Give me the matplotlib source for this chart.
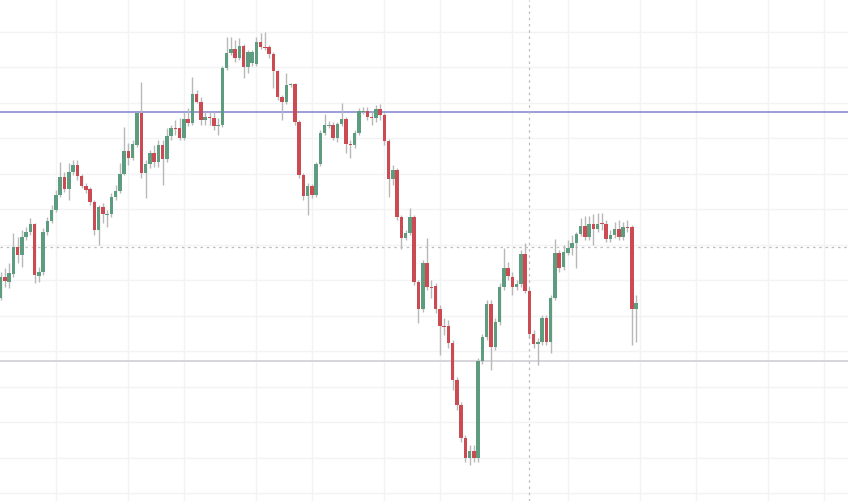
import matplotlib.pyplot as plt
import numpy as np

# 화면에서 읽은 캔들 값 (화면 y 픽셀 기준, 아래에서 가격으로 변환)
open_px = [298, 277, 282, 274, 247, 255, 237, 232, 224, 276, 272, 232, 221, 210, 195, 177, 189, 172, 165, 176,
           186, 189, 202, 230, 207, 215, 214, 197, 191, 174, 151, 158, 145, 113, 173, 164, 153, 162, 145, 159,
           136, 128, 128, 138, 119, 123, 94, 102, 120, 117, 118, 126, 125, 68, 53, 49, 58, 46, 67, 63,
           64, 42, 47, 47, 54, 71, 97, 102, 85, 84, 122, 175, 196, 186, 195, 164, 133, 126, 125, 138,
           124, 119, 144, 145, 133, 112, 111, 117, 118, 109, 115, 141, 179, 170, 217, 238, 233, 217, 282, 309,
           263, 287, 286, 309, 326, 326, 343, 380, 405, 438, 458, 451, 458, 361, 337, 304, 347, 322, 287, 268,
           277, 287, 284, 254, 291, 334, 344, 342, 318, 342, 298, 253, 267, 253, 248, 243, 234, 226, 237, 224,
           229, 223, 224, 239, 235, 229, 237, 227, 227, 309]
high_px = [272, 268, 263, 233, 237, 230, 227, 218, 223, 267, 228, 217, 205, 190, 162, 172, 163, 160, 160, 174,
           183, 187, 200, 205, 203, 210, 193, 185, 163, 127, 143, 140, 112, 82, 160, 150, 145, 140, 140, 128,
           125, 120, 118, 112, 108, 77, 90, 97, 112, 112, 112, 118, 66, 37, 37, 40, 38, 44, 50, 50,
           37, 33, 32, 45, 52, 70, 95, 73, 83, 83, 120, 173, 183, 184, 162, 130, 114, 121, 122, 122,
           103, 117, 140, 130, 108, 107, 107, 112, 105, 104, 113, 139, 165, 168, 215, 230, 208, 215, 280, 260,
           238, 280, 283, 305, 318, 320, 340, 377, 402, 435, 445, 445, 358, 334, 300, 300, 318, 283, 248, 262,
           272, 280, 250, 243, 288, 330, 338, 315, 315, 295, 239, 250, 245, 240, 235, 232, 218, 216, 216, 214,
           213, 213, 220, 230, 222, 220, 222, 220, 225, 295]
low_px = [300, 287, 288, 277, 263, 267, 240, 235, 283, 282, 275, 235, 223, 212, 197, 192, 200, 175, 180, 188,
          193, 205, 235, 245, 223, 227, 217, 200, 193, 175, 165, 160, 147, 178, 198, 168, 167, 167, 185, 162,
          140, 135, 140, 140, 126, 125, 103, 125, 125, 125, 130, 135, 127, 70, 55, 62, 60, 78, 73, 66,
          66, 49, 50, 58, 88, 100, 120, 104, 87, 125, 178, 200, 215, 198, 197, 166, 135, 128, 140, 142,
          126, 153, 158, 148, 135, 114, 120, 125, 122, 120, 145, 197, 185, 220, 249, 240, 235, 285, 323, 312,
          290, 298, 313, 355, 335, 348, 390, 410, 442, 462, 465, 462, 462, 364, 340, 370, 350, 325, 290, 280,
          295, 290, 287, 293, 338, 348, 365, 345, 345, 353, 300, 272, 270, 255, 255, 268, 236, 240, 240, 245,
          232, 230, 242, 242, 238, 240, 240, 232, 345, 342]
close_px = [277, 281, 273, 247, 255, 237, 232, 224, 275, 272, 232, 221, 210, 195, 177, 189, 172, 165, 176, 186,
            190, 202, 230, 207, 214, 214, 197, 191, 174, 151, 158, 144, 113, 173, 164, 153, 162, 145, 159, 136,
            128, 129, 138, 119, 123, 94, 102, 120, 117, 118, 126, 125, 68, 53, 49, 58, 46, 67, 52, 52,
            42, 47, 48, 54, 71, 97, 102, 85, 84, 122, 175, 196, 186, 195, 164, 133, 125, 125, 138, 124,
            119, 144, 145, 133, 111, 111, 117, 118, 109, 115, 141, 179, 170, 217, 238, 233, 217, 282, 309, 263,
            287, 288, 309, 326, 327, 343, 380, 405, 438, 458, 451, 458, 361, 337, 304, 347, 322, 287, 268, 276,
            287, 284, 254, 291, 334, 344, 342, 318, 342, 298, 253, 268, 252, 248, 243, 234, 226, 237, 224, 229,
            224, 224, 239, 235, 229, 237, 227, 228, 309, 303]

# 수평선 / 커서 위치 (픽셀 -> 가격)
resistance_px = 112
support_px = 361
cursor_px = 247
cursor_bar = 124

# 가격으로 변환
opens = 500 - np.array(open_px)
highs = 500 - np.array(high_px)
lows = 500 - np.array(low_px)
closes = 500 - np.array(close_px)
x = np.arange(len(opens))

up_color = '#5e9c7f'
down_color = '#cc4b53'

fig = plt.figure(figsize=(8.48, 5.01), dpi=100)
ax = fig.add_axes([0, 0, 1, 1])

# 그리드
ax.set_xticks([13, 30, 43, 60, 73, 90, 103, 120, 133, 150, 163, 180, 193])
ax.set_yticks(np.arange(7, 500, 35.5))
ax.grid(True, color='#f2f3f7', linewidth=1)
ax.set_axisbelow(True)

# 수평선
ax.axhline(500 - resistance_px, color='#7f82d0', linewidth=1.1)
ax.axhline(500 - support_px, color='#d2d2d8', linewidth=1.3)

# 커서 십자선
ax.axhline(500 - cursor_px, color='#bdbdbd', linewidth=0.9, linestyle=(0, (2, 3)))
ax.axvline(cursor_bar, color='#bdbdbd', linewidth=0.9, linestyle=(0, (2, 3)))

# 캔들 (심지 먼저, 몸통은 위에)
colors = [up_color if c >= o else down_color for o, c in zip(opens, closes)]
ax.vlines(x, lows, highs, color='#b8b8b8', linewidth=1, zorder=3)
bottoms = np.minimum(opens, closes)
heights = np.maximum(np.abs(closes - opens), 1.5)
ax.bar(x, heights, bottom=bottoms, width=0.82, color=colors, linewidth=0, zorder=4)

ax.set_xlim(-0.12, 198.7)
ax.set_ylim(-1, 500)
ax.tick_params(length=0, labelbottom=False, labelleft=False)
for s in ax.spines.values():
    s.set_visible(False)

plt.savefig('out.png', dpi=100)
